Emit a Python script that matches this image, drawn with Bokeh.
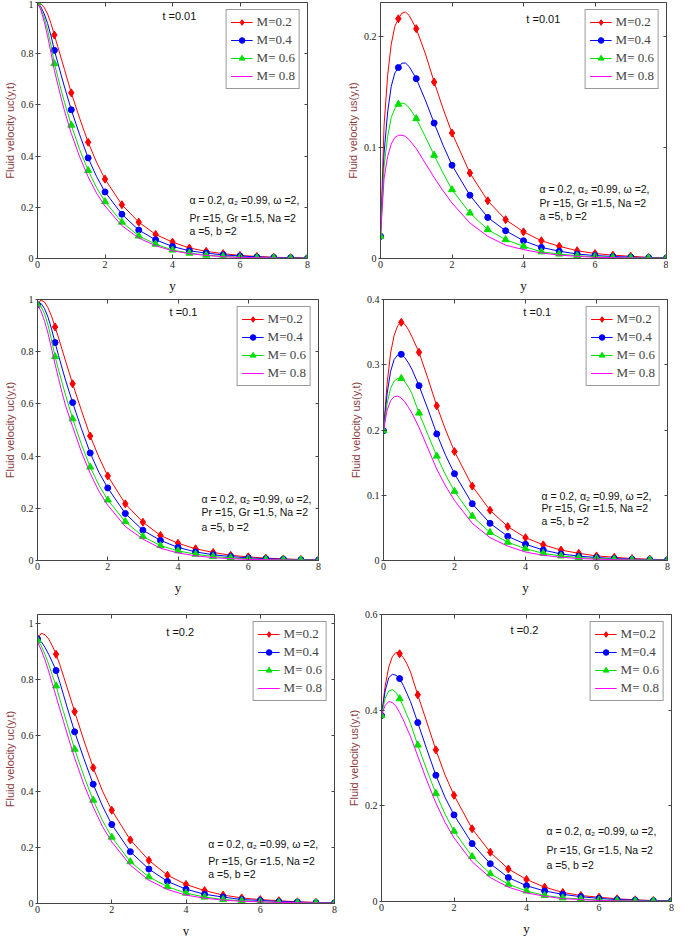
from bokeh.plotting import figure
from bokeh.models import Range1d, FixedTicker, LinearAxis, Label, Legend, LegendItem
from bokeh.layouts import row, column
from bokeh.embed import file_html
from bokeh.resources import INLINE

# ---------------- data ----------------
X_LINE = [0, 0.1, 0.2, 0.3, 0.4, 0.5, 0.6, 0.7, 0.8, 1.0, 1.25, 1.5, 1.75, 2.0,
          2.5, 3.0, 3.5, 4.0, 4.5, 5.0, 5.5, 6.0, 6.5, 7.0, 7.5, 8.0]
X_MARK = [0, 0.5, 1.0, 1.5, 2.0, 2.5, 3.0, 3.5, 4.0, 4.5, 5.0, 5.5, 6.0, 6.5, 7.0, 7.5, 8.0]
M_LABELS = ["M=0.2", "M=0.4", "M= 0.6", "M= 0.8"]
X_TICKS = [0, 2, 4, 6, 8]
X_TICK_LABELS = ["0", "2", "4", "6", "8"]

# Panel 1: u_c, t = 0.01
P1_M02 = [1.0, 0.995, 0.98, 0.955, 0.918, 0.873, 0.828, 0.783, 0.738, 0.647, 0.547, 0.454, 0.376, 0.310,
          0.210, 0.142, 0.094, 0.064, 0.041, 0.028, 0.019, 0.012, 0.008, 0.005, 0.003, 0.002]
P1_M04 = [1.0, 0.983, 0.955, 0.918, 0.87, 0.813, 0.765, 0.717, 0.67, 0.581, 0.483, 0.393, 0.320, 0.260,
          0.173, 0.111, 0.073, 0.047, 0.030, 0.021, 0.014, 0.010, 0.006, 0.004, 0.003, 0.001]
P1_M06 = [1.0, 0.975, 0.94, 0.893, 0.832, 0.761, 0.71, 0.658, 0.61, 0.521, 0.425, 0.344, 0.277, 0.222,
          0.142, 0.088, 0.056, 0.033, 0.021, 0.013, 0.008, 0.005, 0.003, 0.002, 0.001, 0.001]
P1_M08 = [1.0, 0.97, 0.925, 0.868, 0.803, 0.735, 0.68, 0.627, 0.577, 0.489, 0.397, 0.319, 0.255, 0.205,
          0.128, 0.080, 0.050, 0.030, 0.019, 0.012, 0.007, 0.004, 0.003, 0.002, 0.001, 0.001]

# Panel 2: u_s, t = 0.01
P2_M02 = [0.02, 0.12, 0.165, 0.193, 0.209, 0.216, 0.221, 0.222, 0.219, 0.207, 0.185, 0.159, 0.135, 0.113,
          0.077, 0.052, 0.035, 0.024, 0.016, 0.011, 0.007, 0.0045, 0.003, 0.002, 0.001, 0.0005]
P2_M04 = [0.02, 0.095, 0.132, 0.155, 0.167, 0.172, 0.176, 0.176, 0.173, 0.162, 0.143, 0.122, 0.102, 0.084,
          0.057, 0.037, 0.025, 0.016, 0.010, 0.0066, 0.004, 0.0027, 0.0018, 0.0012, 0.0008, 0.0005]
P2_M06 = [0.02, 0.083, 0.11, 0.127, 0.135, 0.139, 0.140, 0.139, 0.136, 0.126, 0.110, 0.093, 0.077, 0.062,
          0.041, 0.026, 0.017, 0.011, 0.006, 0.004, 0.0025, 0.0016, 0.001, 0.0007, 0.0005, 0.0003]
P2_M08 = [0.02, 0.072, 0.092, 0.103, 0.109, 0.111, 0.111, 0.110, 0.107, 0.099, 0.086, 0.073, 0.061, 0.050,
          0.032, 0.020, 0.012, 0.008, 0.005, 0.003, 0.002, 0.001, 0.0008, 0.0005, 0.0003, 0.0002]

# Panel 3: u_c, t = 0.1
P3_M02 = [0.98, 0.998, 0.99, 0.968, 0.936, 0.895, 0.853, 0.808, 0.764, 0.677, 0.575, 0.477, 0.395, 0.324,
          0.217, 0.147, 0.096, 0.066, 0.045, 0.031, 0.020, 0.014, 0.009, 0.006, 0.004, 0.002]
P3_M04 = [0.98, 0.985, 0.965, 0.932, 0.887, 0.835, 0.785, 0.737, 0.69, 0.605, 0.505, 0.412, 0.337, 0.278,
          0.180, 0.116, 0.077, 0.050, 0.033, 0.022, 0.015, 0.010, 0.007, 0.005, 0.003, 0.002]
P3_M06 = [0.98, 0.972, 0.945, 0.902, 0.845, 0.781, 0.73, 0.682, 0.633, 0.543, 0.445, 0.358, 0.288, 0.232,
          0.149, 0.092, 0.057, 0.037, 0.024, 0.015, 0.010, 0.006, 0.004, 0.003, 0.002, 0.001]
P3_M08 = [0.98, 0.955, 0.918, 0.87, 0.812, 0.752, 0.697, 0.643, 0.593, 0.513, 0.416, 0.334, 0.265, 0.212,
          0.130, 0.082, 0.047, 0.029, 0.018, 0.011, 0.007, 0.004, 0.003, 0.002, 0.001, 0.001]

# Panel 4: u_s, t = 0.1
P4_M02 = [0.199, 0.27, 0.318, 0.345, 0.36, 0.365, 0.362, 0.354, 0.343, 0.319, 0.279, 0.237, 0.2, 0.167,
          0.114, 0.077, 0.052, 0.035, 0.024, 0.016, 0.011, 0.007, 0.005, 0.003, 0.002, 0.001]
P4_M04 = [0.199, 0.255, 0.29, 0.308, 0.315, 0.316, 0.311, 0.303, 0.293, 0.268, 0.232, 0.194, 0.161, 0.133,
          0.087, 0.057, 0.037, 0.025, 0.016, 0.010, 0.0067, 0.0046, 0.003, 0.002, 0.0013, 0.0008]
P4_M06 = [0.199, 0.24, 0.264, 0.275, 0.279, 0.279, 0.274, 0.266, 0.256, 0.226, 0.193, 0.160, 0.131, 0.106,
          0.068, 0.043, 0.028, 0.018, 0.011, 0.007, 0.0045, 0.003, 0.002, 0.0012, 0.0008, 0.0005]
P4_M08 = [0.199, 0.23, 0.245, 0.251, 0.252, 0.249, 0.243, 0.235, 0.226, 0.204, 0.172, 0.140, 0.114, 0.092,
          0.057, 0.035, 0.022, 0.013, 0.008, 0.005, 0.003, 0.002, 0.0012, 0.0008, 0.0005, 0.0003]

# Panel 5: u_c, t = 0.2
P5_M02 = [0.945, 0.965, 0.96, 0.945, 0.92, 0.890, 0.853, 0.812, 0.77, 0.685, 0.582, 0.485, 0.402, 0.333,
          0.227, 0.154, 0.101, 0.068, 0.046, 0.030, 0.020, 0.014, 0.010, 0.006, 0.004, 0.002]
P5_M04 = [0.945, 0.935, 0.915, 0.89, 0.862, 0.832, 0.79, 0.745, 0.70, 0.613, 0.517, 0.426, 0.348, 0.282,
          0.185, 0.123, 0.079, 0.051, 0.033, 0.023, 0.014, 0.011, 0.007, 0.005, 0.003, 0.002]
P5_M06 = [0.94, 0.92, 0.89, 0.855, 0.815, 0.777, 0.73, 0.685, 0.64, 0.551, 0.455, 0.369, 0.296, 0.237,
          0.149, 0.095, 0.060, 0.037, 0.023, 0.014, 0.010, 0.006, 0.004, 0.003, 0.002, 0.001]
P5_M08 = [0.935, 0.905, 0.87, 0.83, 0.785, 0.74, 0.695, 0.65, 0.605, 0.520, 0.425, 0.345, 0.275, 0.220,
          0.137, 0.083, 0.050, 0.030, 0.019, 0.012, 0.008, 0.006, 0.004, 0.003, 0.002, 0.001]

# Panel 6: u_s, t = 0.2
P6_M02 = [0.389, 0.45, 0.49, 0.512, 0.521, 0.518, 0.51, 0.497, 0.48, 0.432, 0.375, 0.317, 0.265, 0.222,
          0.152, 0.103, 0.068, 0.046, 0.030, 0.019, 0.0125, 0.009, 0.0056, 0.0035, 0.002, 0.0013]
P6_M04 = [0.389, 0.44, 0.468, 0.475, 0.473, 0.466, 0.452, 0.435, 0.418, 0.374, 0.318, 0.264, 0.218, 0.181,
          0.121, 0.079, 0.050, 0.033, 0.022, 0.015, 0.010, 0.0065, 0.004, 0.0027, 0.0017, 0.001]
P6_M06 = [0.389, 0.425, 0.44, 0.443, 0.437, 0.424, 0.408, 0.39, 0.372, 0.327, 0.275, 0.226, 0.183, 0.147,
          0.094, 0.058, 0.036, 0.022, 0.0125, 0.0076, 0.005, 0.003, 0.002, 0.0012, 0.0008, 0.0005]
P6_M08 = [0.389, 0.41, 0.418, 0.416, 0.408, 0.395, 0.38, 0.362, 0.345, 0.304, 0.253, 0.206, 0.166, 0.133,
          0.083, 0.050, 0.030, 0.018, 0.011, 0.006, 0.004, 0.002, 0.0013, 0.0008, 0.0005, 0.0003]

YT_C = [0, 0.2, 0.4, 0.6, 0.8, 1.0]
YT_C_LABELS = ["0", "0.2", "0.4", "0.6", "0.8", "1"]
YT_S1 = [0, 0.1, 0.2]
YT_S1_LABELS = ["0", "0.1", "0.2"]
YT_S2 = [0, 0.1, 0.2, 0.3, 0.4]
YT_S2_LABELS = ["0", "0.1", "0.2", "0.3", "0.4"]
YT_S3 = [0, 0.2, 0.4, 0.6]
YT_S3_LABELS = ["0", "0.2", "0.4", "0.6"]

T_LABELS = ["t =0.01", "t =0.01", "t =0.1", "t =0.1", "t =0.2", "t =0.2"]
ANNOT = ["\u03b1 = 0.2, \u03b1\u2082 =0.99, \u03c9 =2,", "Pr =15, Gr =1.5, Na =2", "a =5, b =2"]
YLAB_C = "Fluid velocity uc(y,t)"
YLAB_S = "Fluid velocity us(y,t)"

# ---------------- styles ----------------
COLORS = ["#ff0000", "#0000ff", "#00e000", "#ff00ff"]
MARKERS = ["diamond", "circle", "triangle", None]
MSIZES = [8, 6, 7, 0]
SERIF = "Liberation Serif"
SANS = "Liberation Sans"
MARK_IDX = [X_LINE.index(v) for v in X_MARK]


def tick_only_axis(ticks, tick_in):
    return LinearAxis(ticker=FixedTicker(ticks=ticks), major_label_text_font_size="0px",
                      major_label_text_color=None, major_label_text_alpha=0,
                      major_tick_in=tick_in, major_tick_out=0, major_label_standoff=0,
                      axis_line_color=None, major_tick_line_color="#444444",
                      minor_tick_line_color=None)


def make_panel(series, ymax, yticks, ytlabels, ylabel, tlabel, tpos, apos,
               fw, fh, bl, br, bt, bb):
    p = figure(frame_width=fw, frame_height=fh, x_range=Range1d(0, 8), y_range=Range1d(0, ymax),
               output_backend="svg", toolbar_location=None,
               min_border_left=bl, min_border_right=br, min_border_top=bt, min_border_bottom=bb)
    p.grid.visible = False
    p.outline_line_color = "#444444"
    p.outline_line_width = 1
    p.background_fill_color = "white"
    p.border_fill_color = "white"

    xa = p.xaxis[0]
    xa.ticker = FixedTicker(ticks=X_TICKS)
    xa.major_label_overrides = {t: l for t, l in zip(X_TICKS, X_TICK_LABELS)}
    ya = p.yaxis[0]
    ya.ticker = FixedTicker(ticks=yticks)
    ya.major_label_overrides = {t: l for t, l in zip(yticks, ytlabels)}
    for ax in (xa, ya):
        ax.axis_line_color = "#444444"
        ax.major_tick_line_color = "#444444"
        ax.minor_tick_line_color = None
        ax.major_label_text_font = SERIF
        ax.major_label_text_font_size = "10px"
        ax.major_label_text_color = "#222222"
        ax.major_label_standoff = 2
    xa.major_tick_in = 4
    xa.major_tick_out = 0
    ya.major_tick_in = 3
    ya.major_tick_out = 2
    xa.axis_label = "y"
    xa.axis_label_text_font = SERIF
    xa.axis_label_text_font_size = "13px"
    xa.axis_label_text_font_style = "normal"
    xa.axis_label_text_color = "#111111"
    xa.axis_label_standoff = 7
    ya.axis_label = ylabel
    ya.axis_label_text_font = SANS
    ya.axis_label_text_font_size = "11px"
    ya.axis_label_text_font_style = "normal"
    ya.axis_label_text_color = "#8b3a3a"
    ya.axis_label_standoff = 2

    p.add_layout(tick_only_axis(X_TICKS, 4), "above")
    p.add_layout(tick_only_axis(yticks, 3), "right")

    items = []
    for ys, color, marker, msize, lab in zip(series, COLORS, MARKERS, MSIZES, M_LABELS):
        lr = p.line(X_LINE, ys, line_color=color, line_width=1)
        rends = [lr]
        if marker:
            mx = [X_LINE[i] for i in MARK_IDX]
            my = [ys[i] for i in MARK_IDX]
            sr = p.scatter(mx, my, marker=marker, size=msize, fill_color=color, line_color=color)
            rends.append(sr)
        items.append(LegendItem(label=lab, renderers=rends))
    leg = Legend(items=items, location="top_right", margin=7, padding=4, spacing=2,
                 label_text_font=SERIF, label_text_font_size="13px", label_height=14,
                 glyph_width=22, glyph_height=14, label_standoff=4,
                 border_line_color="#333333", border_line_width=1.5,
                 background_fill_color="white", background_fill_alpha=1.0)
    p.add_layout(leg)

    p.add_layout(Label(x=tpos[0], y=tpos[1], text=tlabel, text_font=SANS, text_font_size="11px",
                       text_baseline="middle", text_color="#111111"))
    for txt, yy in zip(ANNOT, apos[1]):
        p.add_layout(Label(x=apos[0], y=yy, text=txt, text_font=SANS, text_font_size="10.5px",
                           text_baseline="middle", text_color="#111111"))
    return p


p1 = make_panel([P1_M02, P1_M04, P1_M06, P1_M08], 1.0, YT_C, YT_C_LABELS, YLAB_C, T_LABELS[0],
                (3.7, 0.949), (4.5, [0.230, 0.160, 0.109]), 270, 256, 30, 33, 2, 35)
p2 = make_panel([P2_M02, P2_M04, P2_M06, P2_M08], 0.2306, YT_S1, YT_S1_LABELS, YLAB_S, T_LABELS[1],
                (4.08, 0.216), (4.45, [0.063, 0.0504, 0.0387]), 286, 256, 40, 2, 2, 35)
p3 = make_panel([P3_M02, P3_M04, P3_M06, P3_M08], 1.0, YT_C, YT_C_LABELS, YLAB_C, T_LABELS[2],
                (3.76, 0.954), (4.67, [0.234, 0.184, 0.130]), 281, 261, 28, 25, 4, 40)
p4 = make_panel([P4_M02, P4_M04, P4_M06, P4_M08], 0.4, YT_S2, YT_S2_LABELS, YLAB_S, T_LABELS[3],
                (3.94, 0.3816), (4.45, [0.0996, 0.0797, 0.0613]), 284, 261, 40, 3, 4, 40)
p5 = make_panel([P5_M02, P5_M04, P5_M06, P5_M08], 1.032, YT_C, YT_C_LABELS, YLAB_C, T_LABELS[4],
                (3.47, 0.971), (4.6, [0.211, 0.153, 0.107]), 297, 289, 32, 9, 10, 35)
p6 = make_panel([P6_M02, P6_M04, P6_M06, P6_M08], 0.6, YT_S3, YT_S3_LABELS, YLAB_S, T_LABELS[5],
                (3.56, 0.567), (4.55, [0.148, 0.107, 0.077]), 290, 287, 38, 3, 14, 33)

layout = column(row(p1, p2), row(p3, p4), row(p5, p6))
open("out.html", "w").write(file_html(layout, INLINE))
